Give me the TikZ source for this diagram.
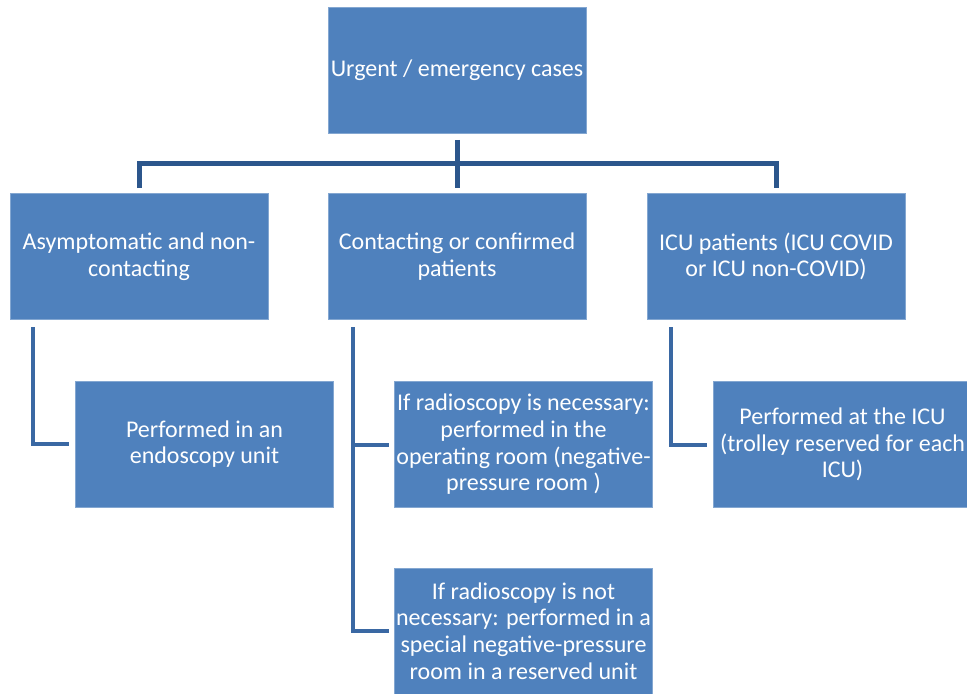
\documentclass[tikz,border=0pt]{standalone}
\usepackage{fontspec}
\setmainfont{Carlito}

\definecolor{boxblue}{RGB}{79,129,189}
\definecolor{trunkblue}{RGB}{44,86,140}
\definecolor{branchblue}{RGB}{58,104,163}

\tikzset{
  box/.style={fill=boxblue, draw=boxblue!70!white, line width=0.6pt, text=white,
    align=center, inner sep=0pt, minimum width=193.5pt, minimum height=94.5pt,
    font=\fontsize{18}{20}\selectfont},
  trunk/.style={draw=trunkblue, line width=3.75pt},
  branch/.style={draw=branchblue, line width=3pt},
}

\begin{document}
\begin{tikzpicture}[x=0.75pt,y=0.75pt,yscale=-1,xscale=1]
\useasboundingbox (0,0) rectangle (967,693); %set diagram to the size of the reference

%Shape: Boxes
\node[box] (urgent)  at (457,70.5)   {Urgent / emergency cases};
\node[box] (asym)    at (139,256.5)  {Asymptomatic and non-\\contacting};
\node[box] (contact) at (457,256.5)  {Contacting or confirmed\\patients};
\node[box] (icu)     at (776,256.5)  {ICU patients (ICU COVID\\or ICU non-COVID)};
\node[box] (endo)    at (204.5,444)  {Performed in an\\endoscopy unit};
\node[box] (radyes)  at (523.5,444.5) {If radioscopy is necessary:\\performed in the\\operating room (negative-\\pressure room )};
\node[box] (radno)   at (523.5,631)  {If radioscopy is not\\necessary: performed in a\\special negative-pressure\\room in a reserved unit};
\node[box] (icuunit) at (842.5,444.5) {Performed at the ICU\\(trolley reserved for each\\ICU)};

%Straight Lines: top tree
\coordinate (bar) at (457,163);
\draw[trunk, shorten <=4.5pt, shorten >=3.75pt] (urgent.south) -- (contact.north);
\draw[trunk, shorten <=3.75pt, shorten >=3.75pt] (asym.north) |- (bar) -| (icu.north);

%Straight Lines: lower branches
\coordinate (asymdrop) at (33,320);
\coordinate (contdrop) at (353,320);
\coordinate (icudrop)  at (671,320);
\draw[branch, shorten <=5.25pt, shorten >=4.5pt] (asymdrop) |- (endo.west);
\draw[branch, shorten <=5.25pt, shorten >=3.75pt] (contdrop) |- (radno.west);
\draw[branch, shorten >=3.75pt] (contdrop |- radyes.west) -- (radyes.west);
\draw[branch, shorten <=5.25pt, shorten >=4.5pt] (icudrop) |- (icuunit.west);

\end{tikzpicture}
\end{document}
